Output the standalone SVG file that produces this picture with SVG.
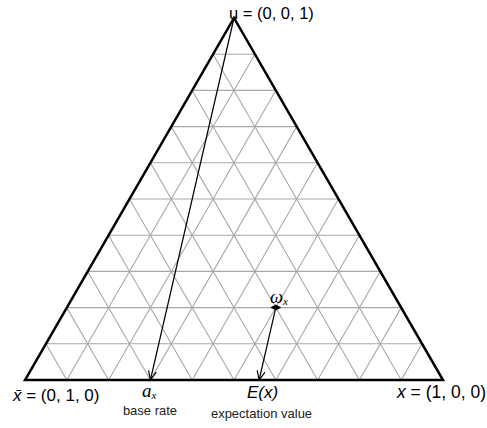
<svg xmlns="http://www.w3.org/2000/svg" width="487" height="428" viewBox="0 0 487 428">
<style>
.grid{stroke:#a8a8a8;stroke-width:1.1;fill:none}
.tri{stroke:#000;stroke-width:2.5;fill:none;stroke-linejoin:miter}
.arr{stroke:#000;stroke-width:1.2;fill:none;marker-end:url(#ah)}
.lbl{font-family:"Liberation Sans",Arial,sans-serif;fill:#000}
.sm{font-family:"Liberation Sans",Arial,sans-serif;fill:#222;font-size:13px;text-anchor:middle}
.math{font-family:"Liberation Serif","DejaVu Serif",serif;font-style:italic;fill:#000}
</style>
<defs>
<marker id="ah" markerUnits="userSpaceOnUse" markerWidth="12" markerHeight="12" refX="10" refY="5" orient="auto" viewBox="0 0 12 10">
<path d="M1,1 L10,5 L1,9" fill="none" stroke="#000" stroke-width="1.2"/>
</marker>
</defs>
<rect width="487" height="428" fill="#fff"/>
<g id="grid" class="grid">
<path d="M213.1,54.2H254.9M192.2,90.4H275.8M171.3,126.6H296.7M150.4,162.8H317.6M129.5,199H338.5M108.6,235.2H359.4M87.7,271.4H380.3M66.8,307.6H401.2M45.9,343.8H422.1"/>
<path d="M66.8,380L254.9,54.2M108.6,380L275.8,90.4M150.4,380L296.7,126.6M192.2,380L317.6,162.8M234,380L338.5,199M275.8,380L359.4,235.2M317.6,380L380.3,271.4M359.4,380L401.2,307.6M401.2,380L422.1,343.8"/>
<path d="M66.8,380L45.9,343.8M108.6,380L66.8,307.6M150.4,380L87.7,271.4M192.2,380L108.6,235.2M234,380L129.5,199M275.8,380L150.4,162.8M317.6,380L171.3,126.6M359.4,380L192.2,90.4M401.2,380L213.1,54.2"/>
</g>
<g id="triangle">
<path class="tri" d="M25,380L234,18L443,380Z"/>
</g>
<g id="connectors">
<path id="to-base-rate" class="arr" d="M234,18L150.4,380"/>
<path id="to-expectation" class="arr" d="M275.8,307.6L259.1,380"/>
</g>
<g id="node-omega">
<path d="M270.3,307.6L275.8,304.6L281.3,307.6L275.8,310.6Z" fill="#000"/>
<text class="math" x="270" y="303" font-size="18.5">ω<tspan font-size="11" dy="2">x</tspan></text>
</g>
<g id="node-u">
<text class="lbl" x="229" y="19" font-size="16.5">u = (0, 0, 1)</text>
</g>
<g id="node-xbar">
<text class="lbl" x="13" y="401" font-size="17"><tspan font-style="italic">x̄</tspan> = (0, 1, 0)</text>
</g>
<g id="node-x">
<text class="lbl" x="397" y="398" font-size="17.5"><tspan font-style="italic">x</tspan> = (1, 0, 0)</text>
</g>
<g id="node-ax">
<text class="math" x="142" y="397" font-size="19">a<tspan font-size="11" dy="2">x</tspan></text>
<text class="sm" x="150" y="415">base rate</text>
</g>
<g id="node-ex">
<text class="lbl" x="247" y="398" font-size="17" font-style="italic">E(x)</text>
<text class="sm" x="261.5" y="418">expectation value</text>
</g>
</svg>
